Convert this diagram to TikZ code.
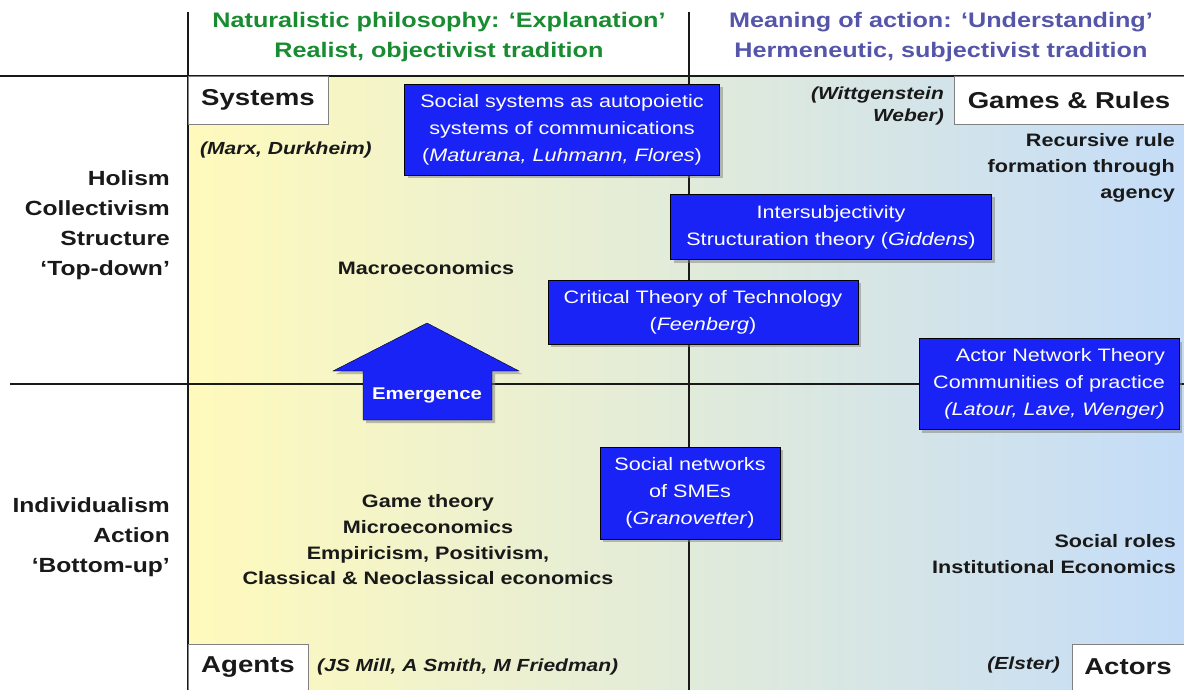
\documentclass[tikz,border=0pt]{standalone}
\usepackage{fontspec}
\setmainfont{Liberation Sans}[FakeStretch=1.2]
\usetikzlibrary{shadows}

\definecolor{natgreen}{RGB}{25,140,50}
\definecolor{herpurple}{RGB}{85,85,170}
\definecolor{boxblue}{RGB}{25,35,245}
\definecolor{paleyellow}{RGB}{255,250,188}
\definecolor{palemid}{RGB}{232,240,215}
\definecolor{paleblue}{RGB}{196,220,248}
\definecolor{ink}{RGB}{25,25,25}

\tikzset{
  theory/.style={draw=black, fill=boxblue, text=white, align=center, inner sep=0pt,
    font=\fontsize{18}{27}\selectfont,
    drop shadow={shadow xshift=3pt, shadow yshift=-3pt, opacity=0.5}},
  corner/.style={draw=gray, fill=white, text=ink, inner sep=0pt,
    font=\bfseries\fontsize{23}{28}\selectfont},
  plain/.style={text=ink, align=center, inner sep=0pt,
    font=\bfseries\fontsize{18}{25.7}\selectfont},
  names/.style={text=ink, align=right, inner sep=0pt,
    font=\bfseries\itshape\fontsize{17.5}{22}\selectfont},
  heading/.style={align=center, inner sep=0pt,
    font=\bfseries\fontsize{21}{30}\selectfont},
  axislabel/.style={text=ink, align=right, inner sep=0pt, anchor=east,
    font=\bfseries\fontsize{20.5}{30}\selectfont},
}

\begin{document}
\begin{tikzpicture}[x=1pt,y=-1pt]
  \useasboundingbox (0,0) rectangle (1184,690);
  \fill[left color=paleyellow, middle color=palemid, right color=paleblue] (188,76) rectangle (1184,690);

  % axes
  \draw[line width=1.6pt, ink] (0,76) -- (1184,76);
  \draw[line width=1.6pt, ink] (10,384) -- (1184,384);
  \draw[line width=1.6pt, ink] (188,12) -- (188,690);
  \draw[line width=1.6pt, ink] (689,12) -- (689,690);

  % column headings
  \node[heading, text=natgreen] (explain) at (439,37) {Naturalistic philosophy: ‘Explanation’\\Realist, objectivist tradition};
  \node[heading, text=herpurple] (understand) at (941,37) {Meaning of action: ‘Understanding’\\Hermeneutic, subjectivist tradition};

  % row headings
  \node[axislabel] (holism) at (170,225) {Holism\\Collectivism\\Structure\\‘Top-down’};
  \node[axislabel] (individ) at (170,537) {Individualism\\Action\\‘Bottom-up’};

  % corners
  \node[corner, minimum width=140, minimum height=48] (systems) at (258,100) {Systems};
  \node[corner, minimum width=230, minimum height=48] (games) at (1069,100) {Games \& Rules};
  \node[corner, minimum width=120, minimum height=46] (agents) at (248,667) {Agents};
  \node[corner, minimum width=112, minimum height=46] (actors) at (1128,667) {Actors};

  \node[names, anchor=west] (marx) at (200,150) {(Marx, Durkheim)};
  \node[names, anchor=east] (wittg) at (944,106) {(Wittgenstein\\Weber)};
  \node[names, anchor=west] (mill) at (317,667) {(JS Mill, A Smith, M Friedman)};
  \node[names, anchor=east] (elster) at (1060,665) {(Elster)};

  % plain labels
  \node[plain, align=right, anchor=east] (recursive) at (1175,168) {Recursive rule\\formation through\\agency};
  \node[plain] (macro) at (426,268) {Macroeconomics};
  \node[plain] (micro) at (428,540) {Game theory\\Microeconomics\\Empiricism, Positivism,\\Classical \& Neoclassical economics};
  \node[plain, align=right, anchor=east] (roles) at (1176,554) {Social roles\\Institutional Economics};

  % theory boxes
  \node[theory, minimum width=315, minimum height=91] (autopoiesis) at (562,130) {Social systems as autopoietic\\systems of communications\\(\textit{Maturana, Luhmann, Flores})};
  \node[theory, minimum width=321, minimum height=65] (giddens) at (831,227) {Intersubjectivity\\Structuration theory (\textit{Giddens})};
  \node[theory, minimum width=310, minimum height=64] (feenberg) at (703,312) {Critical Theory of Technology\\(\textit{Feenberg})};
  \node[theory, align=right, minimum width=260, minimum height=91] (ant) at (1049,384) {Actor Network Theory\\Communities of practice\\\textit{(Latour, Lave, Wenger)}};
  \node[theory, minimum width=180, minimum height=92] (sme) at (690,493) {Social networks\\of SMEs\\(\textit{Granovetter})};

  % emergence arrow
  \draw[theory] (427,323) -- (519,371) -- (492,371) -- (492,420) -- (363,420) -- (363,371) -- (333,371) -- cycle;
  \node[text=white, font=\bfseries\fontsize{17}{20}\selectfont] (emergence) at (427,395) {Emergence};
\end{tikzpicture}
\end{document}
